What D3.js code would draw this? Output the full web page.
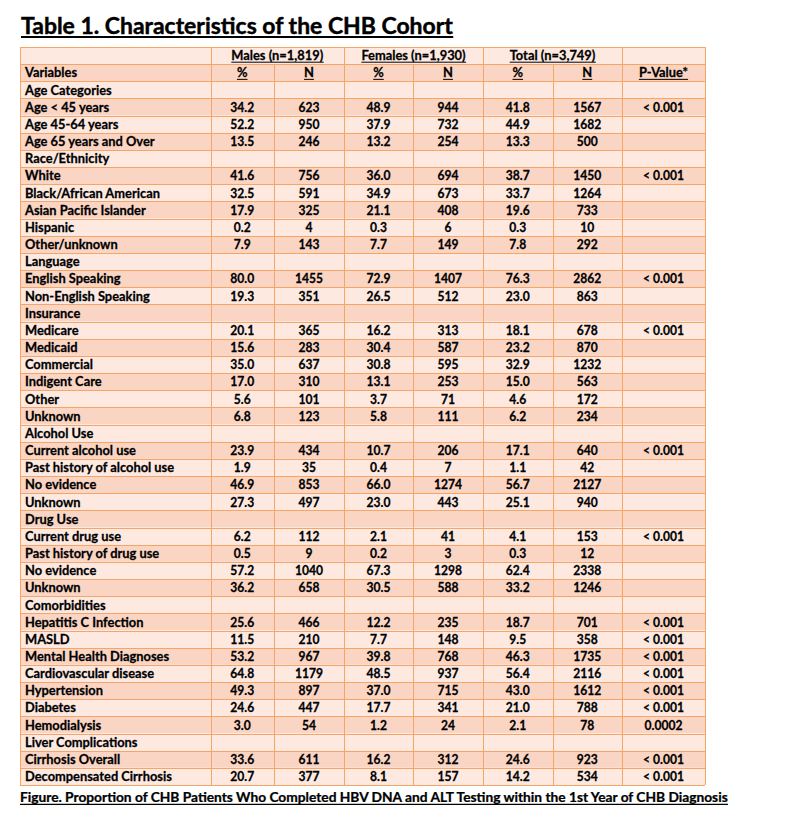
<!DOCTYPE html>
<html><head><meta charset="utf-8">
<script src="https://cdn.jsdelivr.net/npm/d3@7/dist/d3.min.js"></script>
<style>
html,body{margin:0;padding:0;background:#fff;}
svg{display:block;}
text{font-family:Lato,"Open Sans",sans-serif;font-weight:700;fill:#000;}
</style></head>
<body>
<script>
// ---------- DATA ----------
const title = "Table 1. Characteristics of the CHB Cohort";
const caption = "Figure. Proportion of CHB Patients Who Completed HBV DNA and ALT Testing within the 1st Year of CHB Diagnosis";
const groups = ["Males (n=1,819)", "Females (n=1,930)", "Total (n=3,749)"];
const subHeaders = ["%", "N", "%", "N", "%", "N"];
const firstHeader = "Variables";
const pHeader = "P-Value*";

const labels = ["Age Categories","Age < 45 years","Age 45-64 years","Age 65 years and Over",
 "Race/Ethnicity","White","Black/African American","Asian Pacific Islander","Hispanic","Other/unknown",
 "Language","English Speaking","Non-English Speaking",
 "Insurance","Medicare","Medicaid","Commercial","Indigent Care","Other","Unknown",
 "Alcohol Use","Current alcohol use","Past history of alcohol use","No evidence","Unknown",
 "Drug Use","Current drug use","Past history of drug use","No evidence","Unknown",
 "Comorbidities","Hepatitis C Infection","MASLD","Mental Health Diagnoses","Cardiovascular disease","Hypertension","Diabetes","Hemodialysis",
 "Liver Complications","Cirrhosis Overall","Decompensated Cirrhosis"];
const malesPct = [null,34.2,52.2,13.5, null,41.6,32.5,17.9,0.2,7.9, null,80.0,19.3, null,20.1,15.6,35.0,17.0,5.6,6.8, null,23.9,1.9,46.9,27.3, null,6.2,0.5,57.2,36.2, null,25.6,11.5,53.2,64.8,49.3,24.6,3.0, null,33.6,20.7];
const malesN = [null,623,950,246, null,756,591,325,4,143, null,1455,351, null,365,283,637,310,101,123, null,434,35,853,497, null,112,9,1040,658, null,466,210,967,1179,897,447,54, null,611,377];
const femalesPct = [null,48.9,37.9,13.2, null,36.0,34.9,21.1,0.3,7.7, null,72.9,26.5, null,16.2,30.4,30.8,13.1,3.7,5.8, null,10.7,0.4,66.0,23.0, null,2.1,0.2,67.3,30.5, null,12.2,7.7,39.8,48.5,37.0,17.7,1.2, null,16.2,8.1];
const femalesN = [null,944,732,254, null,694,673,408,6,149, null,1407,512, null,313,587,595,253,71,111, null,206,7,1274,443, null,41,3,1298,588, null,235,148,768,937,715,341,24, null,312,157];
const totalPct = [null,41.8,44.9,13.3, null,38.7,33.7,19.6,0.3,7.8, null,76.3,23.0, null,18.1,23.2,32.9,15.0,4.6,6.2, null,17.1,1.1,56.7,25.1, null,4.1,0.3,62.4,33.2, null,18.7,9.5,46.3,56.4,43.0,21.0,2.1, null,24.6,14.2];
const totalN = [null,1567,1682,500, null,1450,1264,733,10,292, null,2862,863, null,678,870,1232,563,172,234, null,640,42,2127,940, null,153,12,2338,1246, null,701,358,1735,2116,1612,788,78, null,923,534];
const pValues = ["","< 0.001","","", "","< 0.001","","","","", "","< 0.001","", "","< 0.001","","","","","", "","< 0.001","","","", "","< 0.001","","","", "","< 0.001","< 0.001","< 0.001","< 0.001","< 0.001","< 0.001","0.0002", "","< 0.001","< 0.001"];

// ---------- LAYOUT ----------
const W = 792, H = 822;
const colEdges = [20, 210.5, 274, 344, 413, 483, 552.5, 622, 705];
const tableTop = 47, tableBottom = 785;
const lightFill = "#FDE9E0", darkFill = "#FBD5C4", lineColor = "#F6A566";

const svg = d3.select("body").append("svg").attr("width", W).attr("height", H);

const nRows = labels.length + 2;
const y = d3.scaleBand().domain(d3.range(nRows)).range([tableTop, tableBottom]);
const colIdx = d3.range(colEdges.length - 1);
const xL = d3.scaleOrdinal().domain(colIdx).range(colEdges.slice(0, -1));
const xR = d3.scaleOrdinal().domain(colIdx).range(colEdges.slice(1));
const xC = i => (xL(i) + xR(i)) / 2;

function measure(str, size) {
  const t = svg.append("text").attr("font-size", size).text(str);
  const w = t.node().getComputedTextLength();
  t.remove();
  return w;
}
// Lato sized by cap height, squeezed horizontally to Calibri-like widths
const bodyF = 12.6, titleF = 23, capF = 12.4;
const bodyK = 147 / measure("Decompensated Cirrhosis", bodyF);
const numK = 28 / measure("1567", bodyF);
const titleK = 432 / measure(title, titleF);
const capK = 708 / measure(caption, capF);

// row backgrounds
svg.append("g").selectAll("rect").data(d3.range(nRows)).join("rect")
  .attr("x", colEdges[0]).attr("width", colEdges[colEdges.length-1] - colEdges[0])
  .attr("y", d => y(d)).attr("height", y.bandwidth())
  .attr("fill", d => d % 2 === 0 ? lightFill : darkFill);

// horizontal lines
svg.append("g").selectAll("line").data(d3.range(nRows + 1)).join("line")
  .attr("x1", colEdges[0]).attr("x2", colEdges[colEdges.length-1])
  .attr("y1", d => Math.round(tableTop + d * y.step()) + 0.5)
  .attr("y2", d => Math.round(tableTop + d * y.step()) + 0.5)
  .attr("stroke", lineColor).attr("stroke-width", 1);

// vertical lines
const groupEdgeIdx = new Set([0, 1, 3, 5, 7, 8]);
svg.append("g").selectAll("line").data(colEdges.map((e, i) => ({e, i}))).join("line")
  .attr("x1", d => Math.round(d.e) + 0.5).attr("x2", d => Math.round(d.e) + 0.5)
  .attr("y1", d => groupEdgeIdx.has(d.i) ? tableTop : y(1))
  .attr("y2", tableBottom)
  .attr("stroke", lineColor).attr("stroke-width", 1);

function txt(sel, x, yy, str, anchor, size, k, ul) {
  const t = sel.append("text")
    .attr("transform", `translate(${x},${yy}) scale(${k},1)`)
    .attr("text-anchor", anchor).attr("font-size", size)
    .attr("stroke", "#000").attr("stroke-width", size * 0.02)
    .text(str);
  if (ul) {
    const bb = t.node().getBBox();
    sel.append("line").attr("x1", x + bb.x * k).attr("x2", x + (bb.x + bb.width) * k)
      .attr("y1", yy + ul.off).attr("y2", yy + ul.off)
      .attr("stroke", "#000").attr("stroke-width", ul.w);
  }
  return t;
}

const base = r => y(r) + 13.3;
const g = svg.append("g");
const hUL = {off: 1.9, w: 1};

// header row 1
groups.forEach((gname, i) => {
  const cx = (colEdges[1 + 2*i] + colEdges[3 + 2*i]) / 2;
  txt(g, cx, base(0), gname, "middle", bodyF, bodyK, hUL);
});
// header row 2
txt(g, 25, base(1), firstHeader, "start", bodyF, bodyK);
subHeaders.forEach((s, i) => txt(g, xC(i + 1), base(1), s, "middle", bodyF, bodyK, hUL));
txt(g, xC(7), base(1), pHeader, "middle", bodyF, bodyK, hUL);

// body
const cols = [malesPct, malesN, femalesPct, femalesN, totalPct, totalN];
labels.forEach((lab, k) => {
  const r = k + 2;
  txt(g, 25, base(r), lab, "start", bodyF, bodyK);
  cols.forEach((arr, c) => {
    const v = arr[k];
    if (v === null) return;
    txt(g, xC(c + 1), base(r), c % 2 === 0 ? v.toFixed(1) : String(v), "middle", bodyF, numK);
  });
  if (pValues[k]) txt(g, xC(7), base(r), pValues[k], "middle", bodyF, numK);
});

// title & caption
txt(svg, 21, 34.3, title, "start", titleF, titleK, {off: 2.6, w: 2});
txt(svg, 20, 802, caption, "start", capF, capK, {off: 2.4, w: 1.2});
</script>
</body></html>
